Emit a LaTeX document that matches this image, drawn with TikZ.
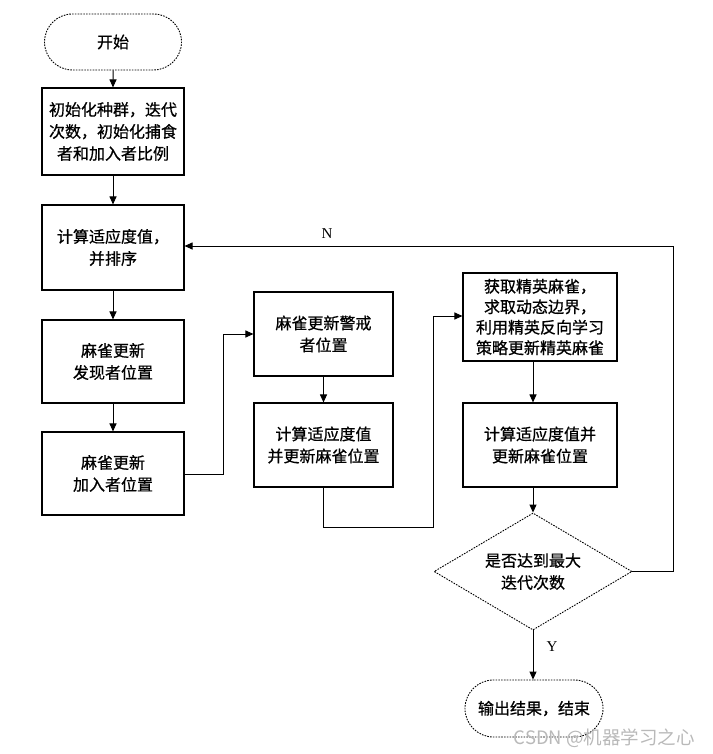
\documentclass[tikz,border=0pt]{standalone}
\usepackage{fontspec}
\setmainfont{Noto Sans CJK SC}[FakeBold=0.7]
\newfontfamily\wmfont{Noto Sans CJK SC}
\newfontfamily\latin{Liberation Serif}
\usetikzlibrary{arrows.meta,shapes.geometric,shapes.misc,shadows}
\begin{document}
\begin{tikzpicture}[x=1pt,y=-1pt,
  every node/.style={font=\fontsize{16}{22}\selectfont, align=center, inner sep=0pt},
  procbox/.style={draw, line width=1.1pt, fill=white, rectangle,
    drop shadow={shadow xshift=1.2pt, shadow yshift=-1.2pt, fill=gray!70, opacity=1}},
  termbox/.style={draw, line width=0.9pt, rounded rectangle, dash pattern=on 1.6pt off 1.2pt,
    minimum width=137pt, minimum height=56pt},
  decbox/.style={draw, line width=0.9pt, diamond, dash pattern=on 1.6pt off 1.2pt,
    minimum width=198pt, minimum height=117pt, aspect=1.69},
  link/.style={line width=1pt, -{Triangle[length=8pt,width=7pt]}},
  plain/.style={line width=1pt}
]
\useasboundingbox (0,0) rectangle (712,754);

\node[termbox] (start) at (113,42) {开始};
\node[procbox, minimum width=142pt, minimum height=87pt] (init) at (113,131.5)
  {初始化种群，迭代\\次数，初始化捕食\\者和加入者比例};
\node[procbox, minimum width=142pt, minimum height=85pt] (fit) at (113,247.5)
  {计算适应度值，\\并排序};
\node[procbox, minimum width=142pt, minimum height=83pt] (disc) at (113,361.5)
  {麻雀更新\\发现者位置};
\node[procbox, minimum width=142pt, minimum height=83pt] (join) at (113,473.5)
  {麻雀更新\\加入者位置};
\node[procbox, minimum width=139pt, minimum height=84pt] (warn) at (323.5,334)
  {麻雀更新警戒\\者位置};
\node[procbox, minimum width=139pt, minimum height=84pt] (upd) at (323.5,445)
  {计算适应度值\\并更新麻雀位置};
\node[procbox, minimum width=154pt, minimum height=88pt,
  font=\fontsize{16}{20.5}\selectfont] (elite) at (540,317)
  {获取精英麻雀，\\求取动态边界，\\利用精英反向学习\\策略更新精英麻雀};
\node[procbox, minimum width=154pt, minimum height=84pt] (upd2) at (540,445)
  {计算适应度值并\\更新麻雀位置};
\node[decbox] (dec) at (533,571.5) {是否达到最大\\迭代次数};
\node[termbox, minimum width=138pt, minimum height=57pt] (stop) at (534,708.5) {输出结果，结束};

\coordinate (c1) at (223,474);
\coordinate (c2) at (223,334);
\coordinate (c3) at (323.5,527);
\coordinate (c4) at (433,527);
\coordinate (c5) at (433,316);
\coordinate (c6) at (673,571.5);
\coordinate (c7) at (673,246);

\draw[link] (start) -- (init);
\draw[link] (init) -- (fit);
\draw[link] (fit) -- (disc);
\draw[link] (disc) -- (join);
\draw[link] (join.east |- c1) -- (c1) -- (c2) -- (warn.west |- c2);
\draw[link] (warn) -- (upd);
\draw[link] (upd.south) -- (c3) -- (c4) -- (c5) -- (elite.west |- c5);
\draw[link] (elite.south -| dec.north) -- (upd2.north -| dec.north);
\draw[link] (upd2.south -| dec.north) -- (dec.north);
\draw[link] (dec.east) -- (c6) -- (c7) -- (fit.east |- c7);
\draw[link] (dec.south) -- (stop.north -| dec.south);

\node[font=\latin\fontsize{15}{18}\selectfont] (nlab) at (327,234) {N};
\node[font=\latin\fontsize{15}{18}\selectfont] (ylab) at (552,647) {Y};
\node[anchor=east, text=gray!55, font=\wmfont\fontsize{18.5}{20}\selectfont] (wm) at (695,738) {CSDN @机器学习之心};
\end{tikzpicture}
\end{document}
